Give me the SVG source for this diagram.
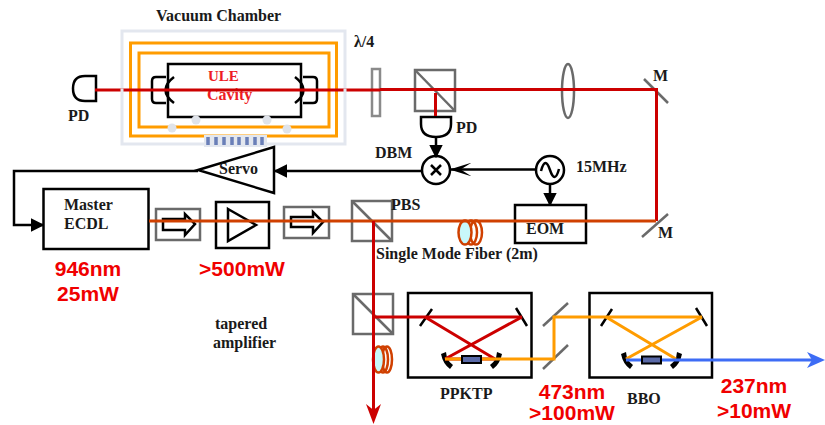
<svg xmlns="http://www.w3.org/2000/svg" width="825" height="425" viewBox="0 0 825 425">
<defs>
<style>
text{font-family:"Liberation Serif",serif;font-weight:bold;fill:#1a1a1a;font-size:16px}
.big{font-family:"Liberation Sans",sans-serif;font-size:21px;fill:#f00000;text-anchor:middle}
.blk{fill:none;stroke:#000;stroke-width:2.5}
.gry{fill:none;stroke:#6a6a6a;stroke-width:2.5}
.org{fill:none;stroke:#ff9c00;stroke-width:3}
.red{fill:none;stroke:#cc0000;stroke-width:3}
.ir{fill:none;stroke:#d04000;stroke-width:2.8}
.sig{fill:none;stroke:#000;stroke-width:2.5}
.coil{fill:none;stroke:#d04000;stroke-width:2.5}
.dot{fill:#dfe3ea}
.cm{fill:#000}
</style>
<marker id="ah" viewBox="0 0 10 10" refX="9" refY="5" markerWidth="5.5" markerHeight="5.5" orient="auto"><path d="M0 0L10 5L0 10Z" fill="#000"/></marker>
<marker id="barb" viewBox="0 0 16 10" refX="15" refY="5" markerWidth="9" markerHeight="5.500" orient="auto"><path d="M0 0L16 5L0 10L8 5Z" fill="#000"/></marker>
<path id="cmirrors" d="M441 354L446 352L447 358Q449 362 453 365L450 369Q443 364 441 354ZM502 354L497 352L496 358Q494 362 490 365L493 369Q500 364 502 354Z"/>
</defs>
<g id="chamber">
<rect x="122" y="31" width="223" height="113" fill="none" stroke="#e3e7ef" stroke-width="3"/>
<rect x="130.500" y="43" width="206" height="93" class="org"/>
<rect x="139" y="53" width="190" height="74" class="org"/>
<rect x="204" y="135" width="63" height="12" fill="#e3e7ef"/>
<path d="M208 137V145M216 137V145M224 137V145M232 137V145M239 137V145M247 137V145M255 137V145M262 137V145" stroke="#6a7fb8" stroke-width="3.500"/>
<text x="156" y="21">Vacuum Chamber</text>
</g>
<g id="cavity">
<rect x="168" y="64" width="133" height="53" class="blk"/>
<circle class="dot" cx="196" cy="120" r="4.500"/><circle class="dot" cx="267" cy="120" r="4.500"/><circle class="dot" cx="172" cy="128" r="4.500"/><circle class="dot" cx="287" cy="129" r="4.500"/>
<path d="M166 77H156Q152 77 152 81V99Q152 103 156 103H166" class="blk"/>
<path d="M174 77Q157 90 174 103" class="blk"/>
<path d="M303 77H313Q317 77 317 81V99Q317 103 313 103H303" class="blk"/>
<path d="M295 77Q312 90 295 103" class="blk"/>
</g>
<g id="photodiode-left">
<path d="M96 76H85Q73 76 73 88.500Q73 101 85 101H96Z" class="blk"/>
<text x="68" y="121">PD</text>
</g>
<g id="waveplate"><rect x="372" y="69" width="8" height="47" fill="none" stroke="#8a8a8a" stroke-width="2.500"/><text x="354" y="47">λ/4</text></g>
<g id="pbs-top"><rect x="415" y="70" width="40" height="41" class="gry"/><path d="M415 70L455 111" class="gry" stroke-width="2"/></g>
<g id="lens"><ellipse cx="568" cy="91" rx="6" ry="27" class="gry"/></g>
<g id="mirror-top"><path d="M644 79L668 103" class="gry"/><text x="653" y="81">M</text></g>
<g id="mirror-bottom"><path d="M642 237L668 214" class="gry"/><text x="658" y="238">M</text></g>
<g id="photodiode-right">
<path d="M421 117H451V124Q451 137 436 137Q421 137 421 124Z" class="blk"/>
<text x="456" y="133">PD</text>
</g>
<g id="dbm">
<circle cx="436" cy="170" r="14" fill="#fff" stroke="#000" stroke-width="2.500"/>
<path d="M431 165L441 175M441 165L431 175" class="blk"/>
<text x="375" y="158">DBM</text>
</g>
<g id="oscillator">
<circle cx="550" cy="170" r="14" fill="#fff" stroke="#000" stroke-width="2.500"/>
<path d="M541 171C544 160 547 161 550 170C553 179 556 180 559 169" class="blk" stroke-width="2"/>
<text x="576" y="172">15MHz</text>
</g>
<g id="eom"><rect x="515" y="205" width="71" height="38" class="blk"/><text x="526" y="234">EOM</text></g>
<g id="servo">
<path d="M198 170L274 147V193Z" fill="none" stroke="#000" stroke-width="2.500"/>
<text x="219" y="174">Servo</text>
</g>
<g id="master-ecdl">
<rect x="43.500" y="189" width="105" height="60" class="blk"/>
<text x="64" y="210">Master</text><text x="64" y="229">ECDL</text>
<text class="big" x="88" y="276">946nm</text><text class="big" x="88" y="301">25mW</text>
</g>
<g id="isolator-1">
<rect x="156" y="209" width="44" height="31" class="gry"/>
<path d="M163 219H185V214L195 224L185 235V230H163Z" class="blk"/>
</g>
<g id="amplifier">
<rect x="216" y="202" width="53" height="46" class="blk"/>
<path d="M228 209L256 225L228 241Z" class="blk"/>
<text class="big" x="242" y="276">&gt;500mW</text>
<text x="215" y="329">tapered</text><text x="213" y="348">amplifier</text>
</g>
<g id="isolator-2">
<rect x="284" y="207" width="45" height="31" class="gry"/>
<path d="M291 217H313V212L323 222L313 233V227H291Z" class="blk"/>
</g>
<g id="pbs-middle"><rect x="352" y="201" width="40" height="40" class="gry"/><path d="M352 201L392 241" class="gry" stroke-width="2"/><text x="391" y="210">PBS</text></g>
<g id="fiber-1">
<ellipse cx="476" cy="232.500" rx="6" ry="12" class="coil"/>
<ellipse cx="471" cy="232.500" rx="6" ry="12" class="coil"/>
<ellipse cx="465" cy="232.500" rx="6.500" ry="12" class="coil" style="fill:#c8f8fa"/>
<text x="376" y="259">Single Mode Fiber (2m)</text>
</g>
<g id="pbs-lower"><rect x="353" y="294" width="40" height="40" class="gry"/><path d="M353 294L393 334" class="gry" stroke-width="2"/></g>
<g id="fiber-2">
<ellipse cx="387" cy="359.500" rx="5" ry="13" class="coil"/>
<ellipse cx="383" cy="359.500" rx="5" ry="13" class="coil"/>
<ellipse cx="378.500" cy="359.500" rx="5.500" ry="13" class="coil" style="fill:#c8f8fa"/>
</g>
<g id="ppktp">
<rect x="408" y="293" width="123.500" height="84.500" class="blk"/>
<path d="M432 309L420 326M516 308L527 326" class="blk"/>
<use href="#cmirrors" class="cm"/>
<text x="440" y="399">PPKTP</text>
</g>
<g id="mirrors-shg"><path d="M543 326L568 303" class="gry"/><path d="M543 369L568 345" class="gry"/>
<text class="big" x="572" y="399">473nm</text><text class="big" x="572" y="420">&gt;100mW</text></g>
<g id="bbo">
<rect x="589.500" y="293" width="122.500" height="84.500" class="blk"/>
<path d="M612 309L601 326M696 308L707 326" class="blk"/>
<use href="#cmirrors" x="180" class="cm"/>
<text x="627" y="404">BBO</text>
</g>
<g id="uv-label"><text class="big" x="754" y="393">237nm</text><text class="big" x="754" y="418">&gt;10mW</text></g>
<g id="cavity-label"><text x="208" y="81" style="fill:#ee1c25;font-size:15px">ULE</text><text x="207" y="100" style="fill:#ee1c25;font-size:16px">Cavity</text></g>
<g id="connectors">
<path d="M95 90H380M380 89.500H656.500V221" class="red"/>
<path d="M435.500 93V116" class="red"/>
<path d="M149 221H656" class="ir"/>
<path d="M373.500 221V410" class="red" stroke-width="2.500"/>
<path d="M373 317H522" class="red"/>
<path d="M366 404L373.500 424L381 404L373.500 410Z" fill="#cc0000"/>
<path d="M425 317L495 359M522 317L445 359" class="red" stroke-width="2.500"/>
<path d="M445 359H495" class="red"/>
<path d="M445 359H554V317H702" class="org"/>
<path d="M606 317L676 359M702 317L626 359" class="org" stroke-width="2.500"/>
<path d="M626 360H812" stroke="#3d6cf5" stroke-width="3" fill="none"/>
<path d="M807 352L825 360L807 368L812 360Z" fill="#3d6cf5"/>
<rect x="462" y="356" width="19" height="7" fill="#5a6aa8" stroke="#000" stroke-width="2"/>
<rect x="642" y="356.500" width="19" height="7" fill="#5a6aa8" stroke="#000" stroke-width="2"/>
<path d="M436 137V157" class="sig" marker-end="url(#ah)"/>
<path d="M535 169.500H451" class="sig" marker-end="url(#barb)"/>
<path d="M550 184V205" class="sig" marker-end="url(#ah)"/>
<path d="M422 171H275" class="sig" marker-end="url(#ah)"/>
<path d="M198 171H14V225H43" class="sig" stroke-width="3" marker-end="url(#ah)"/>
<path d="M122 88.500V92M345 88.500V92" stroke="#e3e7ef" stroke-width="3"/>
</g>
</svg>
